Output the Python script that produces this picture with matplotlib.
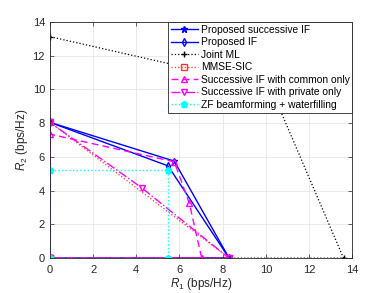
import numpy as np
import matplotlib
matplotlib.use('Agg')
import matplotlib.pyplot as plt

plt.rcParams['font.family'] = ['Liberation Sans', 'DejaVu Sans']
plt.rcParams['mathtext.fontset'] = 'custom'
plt.rcParams['mathtext.it'] = 'Liberation Sans:italic'
plt.rcParams['mathtext.rm'] = 'Liberation Sans'

# rate regions (R1, R2)
succ_r1 = [0, 0, 5.76, 8.3, 0]
succ_r2 = [0, 8.05, 5.75, 0, 0]
if_r1 = [0, 0, 5.47, 8.3, 0]
if_r2 = [0, 8.05, 5.47, 0, 0]
ml_r1 = [0, 0, 10.2, 13.6, 0]
ml_r2 = [0, 13.13, 10.17, 0, 0]
mmse_r1 = [0, 0, 8.3, 0]
mmse_r2 = [0, 8.05, 0, 0]
common_r1 = [0, 0, 5.76, 6.46, 7.03, 0]
common_r2 = [0, 7.35, 5.71, 3.24, 0, 0]
private_r1 = [0, 0, 4.25, 8.3, 0]
private_r2 = [0, 8.05, 4.17, 0, 0]
zf_r1 = [0, 0, 5.45, 5.45, 0]
zf_r2 = [0, 5.22, 5.22, 0, 0]

labels = ['Proposed successive IF', 'Proposed IF', 'Joint ML', 'MMSE-SIC',
          'Successive IF with common only', 'Successive IF with private only',
          'ZF beamforming + waterfilling']

blue = (0, 0, 1)
mag = (1, 0, 1)
cyan = (0, 1, 1)

fig = plt.figure(figsize=(3.9, 2.93), dpi=100)
ax = fig.add_axes([0.128, 0.119, 0.775, 0.806])

ax.plot(succ_r1, succ_r2, '-*', color=blue, lw=1.0, ms=5, label=labels[0])
ax.plot(if_r1, if_r2, '-d', color=blue, lw=1.0, ms=4, mfc='none', label=labels[1])
ax.plot(ml_r1, ml_r2, 'k:+', lw=0.9, ms=5, label=labels[2])
ax.plot(mmse_r1, mmse_r2, ':s', color=(1, 0.2, 0.2), lw=0.9, ms=4, mfc='none', label=labels[3])
ax.plot(common_r1, common_r2, '--^', color=mag, lw=1.0, ms=5, mfc='none', dashes=(5, 3), label=labels[4])
ax.plot(private_r1, private_r2, '-.v', color=mag, lw=1.0, ms=5, mfc='none', label=labels[5])
ax.plot(zf_r1, zf_r2, ':p', color=cyan, lw=1.0, ms=5, label=labels[6])

ax.set_xlim(0, 14)
ax.set_ylim(0, 14)
ax.set_xticks(np.arange(0, 15, 2))
ax.set_yticks(np.arange(0, 15, 2))
ax.grid(True, color='#e6e6e6', lw=0.6)
ax.set_axisbelow(True)
ax.tick_params(direction='in', top=True, right=True, labelsize=8,
               colors='#262626', length=3, width=0.5)
ax.tick_params(axis='x', pad=5)
for s in ax.spines.values():
    s.set_color('#262626')
    s.set_linewidth(0.6)

ax.set_xlabel('$R_1$ (bps/Hz)', fontsize=8.5, color='#262626', labelpad=1)
ax.set_ylabel('$R_2$ (bps/Hz)', fontsize=8.5, color='#262626', labelpad=2)

leg = ax.legend(loc='upper right', fontsize=7.4, handlelength=2.6,
                borderaxespad=0, fancybox=False, edgecolor='#262626',
                framealpha=1, borderpad=0.25, labelspacing=0.25,
                handletextpad=0.3)
leg.get_frame().set_linewidth(0.6)

fig.savefig('out.png', dpi=100)
